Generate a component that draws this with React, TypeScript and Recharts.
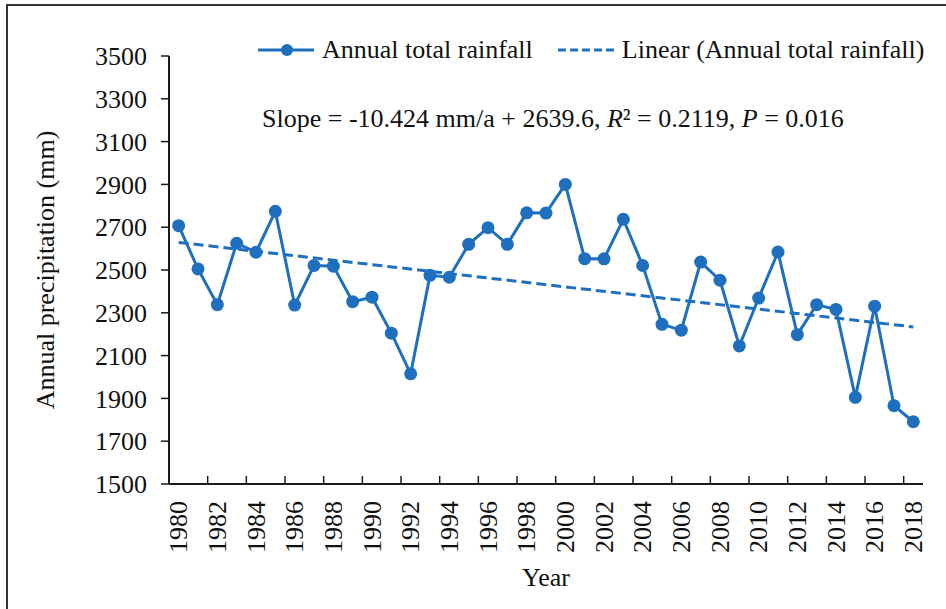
import React from "react";
import { LineChart, Line, XAxis, YAxis, Legend } from "recharts";

const years = [
  1980, 1981, 1982, 1983, 1984, 1985, 1986, 1987, 1988, 1989,
  1990, 1991, 1992, 1993, 1994, 1995, 1996, 1997, 1998, 1999,
  2000, 2001, 2002, 2003, 2004, 2005, 2006, 2007, 2008, 2009,
  2010, 2011, 2012, 2013, 2014, 2015, 2016, 2017, 2018,
];
const rainfall = [
  2707, 2505, 2338, 2625, 2583, 2774, 2336, 2521, 2518, 2352,
  2373, 2205, 2015, 2475, 2466, 2620, 2698, 2620, 2767, 2766,
  2900, 2553, 2552, 2737, 2521, 2246, 2219, 2537, 2452, 2145,
  2369, 2584, 2198, 2338, 2316, 1905, 2331, 1866, 1791,
];
const trendYears = [1980, 2018];
const trendValues = [2629, 2234];

const yTicks = [1500, 1700, 1900, 2100, 2300, 2500, 2700, 2900, 3100, 3300, 3500];
const xLabelTicks = [
  1980, 1982, 1984, 1986, 1988, 1990, 1992, 1994, 1996, 1998,
  2000, 2002, 2004, 2006, 2008, 2010, 2012, 2014, 2016, 2018,
];
const xMarkTicks = [
  1979.5, 1981.5, 1983.5, 1985.5, 1987.5, 1989.5, 1991.5, 1993.5, 1995.5, 1997.5,
  1999.5, 2001.5, 2003.5, 2005.5, 2007.5, 2009.5, 2011.5, 2013.5, 2015.5, 2017.5,
];
const xDomain = [1979.5, 2018.5];

const seriesName = "Annual total rainfall";
const trendName = "Linear (Annual total rainfall)";

const data = years.map((year, i) => {
  const ti = trendYears.indexOf(year);
  return { year, rain: rainfall[i], trend: ti >= 0 ? trendValues[ti] : null };
});

const FONT = "'Liberation Serif', 'Times New Roman', serif";
const BLUE = "#1f6fbf";
const AXIS = "#1a1a1a";

const XLabelTick = (props: any) => {
  const { x, y, payload } = props;
  return (
    <text
      x={x}
      y={y}
      transform={`rotate(-90, ${x}, ${y})`}
      textAnchor="end"
      dy="0.34em"
      fontSize={26}
      fontFamily={FONT}
      fill="#111"
    >
      {payload.value}
    </text>
  );
};

const EmptyTick = () => <g />;

const LegendContent = (props: any) => {
  const { payload } = props;
  return (
    <div style={{ display: "flex", alignItems: "center", fontFamily: FONT, fontSize: 26, lineHeight: "30px", color: "#111", whiteSpace: "nowrap" }}>
      {(payload || []).map((entry: any, i: number) => {
        const dashed = entry.dataKey === "trend";
        return (
          <div key={i} style={{ display: "flex", alignItems: "center", marginRight: i === 0 ? 25 : 0 }}>
            <svg width={56} height={30} style={{ display: "block" }}>
              {dashed ? (
                <line x1={0} y1={15} x2={56} y2={15} stroke={BLUE} strokeWidth={3} strokeDasharray="8 4" />
              ) : (
                <g>
                  <line x1={0} y1={15} x2={56} y2={15} stroke={BLUE} strokeWidth={3} />
                  <circle cx={29} cy={15} r={6} fill={BLUE} />
                </g>
              )}
            </svg>
            <span style={{ marginLeft: 8 }}>{entry.value}</span>
          </div>
        );
      })}
    </div>
  );
};

export default function App() {
  return (
    <div style={{ position: "absolute", left: 0, top: 0, width: 946, height: 609, background: "#fff", overflow: "hidden" }}>
      <div
        style={{
          position: "absolute",
          left: 6,
          top: 4,
          width: 940,
          height: 605,
          borderTop: "2px solid #333",
          borderLeft: "2px solid #333",
          boxSizing: "border-box",
          pointerEvents: "none",
        }}
      />
      <LineChart
        width={946}
        height={609}
        data={data}
        margin={{ top: 56, right: 23, left: 0, bottom: 15 }}
        style={{ position: "absolute", left: 0, top: 0 }}
      >
        <XAxis
          xAxisId="aMarks"
          dataKey="year"
          type="number"
          domain={xDomain}
          ticks={xMarkTicks}
          interval={0}
          tick={<EmptyTick />}
          tickSize={-8}
          height={1}
          axisLine={{ stroke: AXIS, strokeWidth: 2 }}
          tickLine={{ stroke: AXIS, strokeWidth: 1.5 }}
          allowDataOverflow
        />
        <XAxis
          xAxisId="bLabels"
          dataKey="year"
          type="number"
          domain={xDomain}
          ticks={xLabelTicks}
          interval={0}
          tick={<XLabelTick />}
          tickLine={false}
          axisLine={false}
          tickSize={0}
          tickMargin={16}
          height={109}
          allowDataOverflow
          label={{ value: "Year", position: "insideBottom", offset: 8, fontSize: 26, fontFamily: FONT, fill: "#111" }}
        />
        <YAxis
          domain={[1500, 3500]}
          ticks={yTicks}
          interval={0}
          width={169}
          tickSize={8}
          tickMargin={14}
          axisLine={{ stroke: AXIS, strokeWidth: 2 }}
          tickLine={{ stroke: AXIS, strokeWidth: 1.5 }}
          tick={{ fontSize: 26, fontFamily: FONT, fill: "#111" }}
          allowDataOverflow
          label={{
            value: "Annual precipitation (mm)",
            angle: -90,
            position: "insideLeft",
            offset: 45,
            fontSize: 26,
            fontFamily: FONT,
            fill: "#111",
            style: { textAnchor: "middle" },
          }}
        />
        <Legend
          layout="horizontal"
          verticalAlign="middle"
          align="center"
          content={<LegendContent />}
          wrapperStyle={{ top: 35, left: 258, width: "auto" }}
        />
        <Line
          xAxisId="bLabels"
          dataKey="rain"
          name={seriesName}
          stroke={BLUE}
          strokeWidth={3}
          dot={{ r: 6.5, fill: BLUE, stroke: BLUE, strokeWidth: 0 }}
          activeDot={false}
          isAnimationActive={false}
        />
        <Line
          xAxisId="bLabels"
          dataKey="trend"
          name={trendName}
          stroke={BLUE}
          strokeWidth={3}
          strokeDasharray="10 5"
          dot={false}
          activeDot={false}
          connectNulls
          isAnimationActive={false}
        />
        <text x={262} y={127} fontSize={26} fontFamily={FONT} fill="#111">
          Slope = -10.424 mm/a + 2639.6, <tspan fontStyle="italic">R</tspan>² = 0.2119, <tspan fontStyle="italic">P</tspan> = 0.016
        </text>
      </LineChart>
    </div>
  );
}
